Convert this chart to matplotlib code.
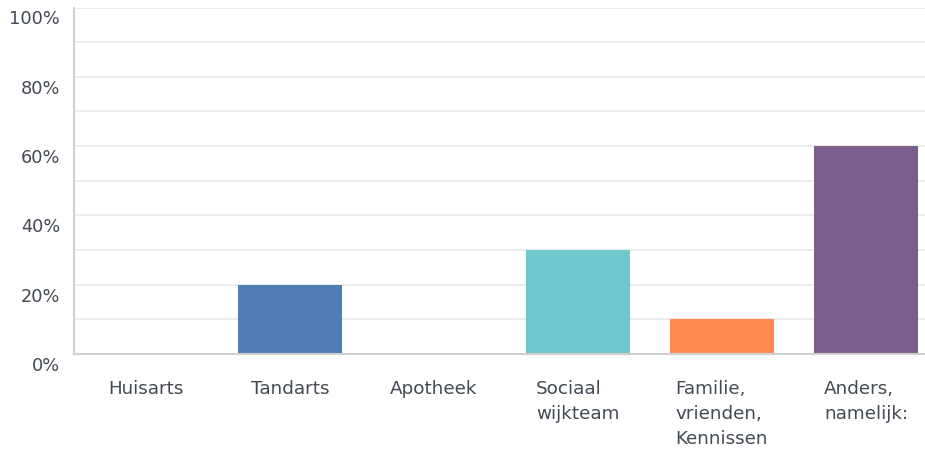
import matplotlib
matplotlib.use("Agg")
import matplotlib.pyplot as plt
import matplotlib.transforms as mtransforms
from matplotlib.ticker import MultipleLocator, FuncFormatter

categories = ["Huisarts", "Tandarts", "Apotheek", "Sociaal\nwijkteam",
              "Familie,\nvrienden,\nKennissen", "Anders,\nnamelijk:"]
values = [0, 20, 0, 30, 10, 60]
colors = ["#4F7DB5", "#4F7DB5", "#4F7DB5", "#6CC8CC", "#FF8B50", "#7B5E8E"]

text_col = "#434a54"
plt.rcParams["font.family"] = ["DejaVu Sans"]

fig = plt.figure(figsize=(9.25, 4.54), dpi=100)
# axes box in pixels: left 74, bottom 0% at y=354, top 100% at y=7.5
ax = fig.add_axes([74 / 925, 1 - 354 / 454, (925 - 74) / 925, (354 - 7.5) / 454])

x = range(len(categories))
ax.bar(x, values, width=0.72, color=colors, zorder=3)

ax.set_xlim(-0.5, 5.41)
ax.set_ylim(0, 100)
ax.yaxis.set_major_locator(MultipleLocator(20))
ax.yaxis.set_minor_locator(MultipleLocator(10))
ax.yaxis.set_major_formatter(FuncFormatter(lambda v, p: f"{int(v)}%"))
ax.grid(axis="y", which="both", color="#ebebeb", linewidth=1.3, zorder=0)

ax.set_xticks(list(x))
ax.set_xticklabels(categories, multialignment="left", linespacing=1.5)
ax.tick_params(axis="x", length=0, pad=18.5, labelsize=13.2, labelcolor=text_col)
ax.tick_params(axis="y", which="both", length=0, pad=10, labelsize=12.8,
               labelcolor=text_col)

# y labels sit a bit below their gridline
offset = mtransforms.ScaledTranslation(0, -10 / 100, fig.dpi_scale_trans)
for lab in ax.get_yticklabels():
    lab.set_transform(lab.get_transform() + offset)

for side in ["top", "right"]:
    ax.spines[side].set_visible(False)
for side in ["left", "bottom"]:
    ax.spines[side].set_color("#d0d0d0")
    ax.spines[side].set_linewidth(1.5)
    ax.spines[side].set_zorder(4)

fig.savefig("out.png", dpi=100)
